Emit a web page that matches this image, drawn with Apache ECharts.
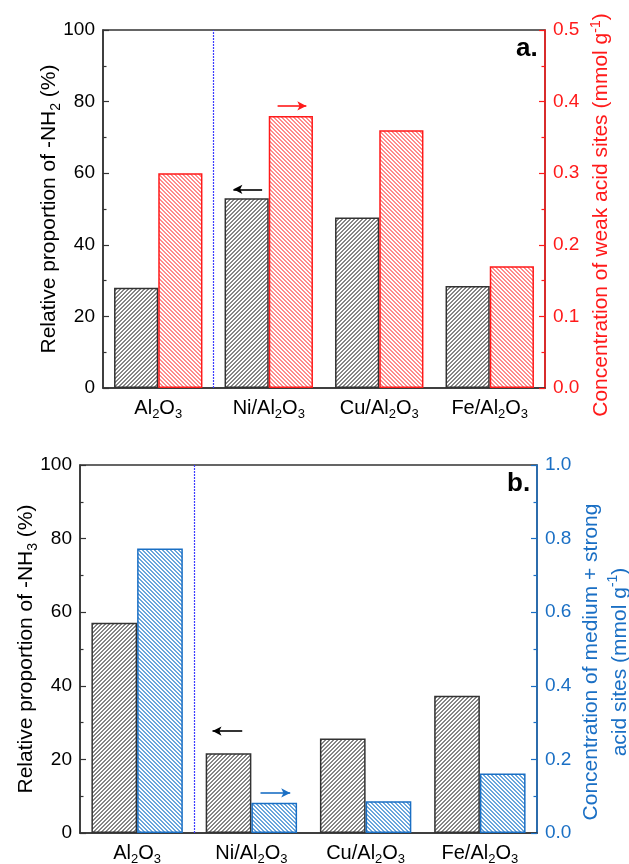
<!DOCTYPE html>
<html><head><meta charset="utf-8">
<script src="https://cdn.jsdelivr.net/npm/echarts@6/dist/echarts.min.js"></script>
<style>html,body{margin:0;padding:0;background:#fff}#c{width:629px;height:864px}</style>
</head><body><div id="c"></div>
<script>
// ---- data ----
const categories = ['Al2O3', 'Ni/Al2O3', 'Cu/Al2O3', 'Fe/Al2O3'];
const nh2Percent = [28.0, 53.0, 47.6, 28.5];          // panel a, left axis (%)
const weakAcid = [0.300, 0.380, 0.360, 0.170];        // panel a, right axis (mmol/g)
const nh3Percent = [57.1, 21.7, 25.7, 37.3];          // panel b, left axis (%)
const medStrongAcid = [0.773, 0.082, 0.086, 0.162];   // panel b, right axis (mmol/g)
const leftTicks = [0, 20, 40, 60, 80, 100];
const rightTicksA = [0.0, 0.1, 0.2, 0.3, 0.4, 0.5];
const rightTicksB = [0.0, 0.2, 0.4, 0.6, 0.8, 1.0];
// annotation arrows: [xFrom, xTo, y] (x in category units 0..4, y in left-axis units)
const arrowsA = [[1.44, 1.18, 55.5], [1.58, 1.84, 78.8]];
const arrowsB = [[1.42, 1.16, 27.7], [1.58, 1.84, 10.9]];
const dividerX = 1;

const FONT = 'Liberation Sans';
const RED = '#ff1a1a';
const BLUE = '#1a6fc4';

function hatch(color, dir) {
  const n = 4;
  const c = document.createElement('canvas');
  c.width = n; c.height = n;
  const ctx = c.getContext('2d');
  ctx.fillStyle = '#ffffff';
  ctx.fillRect(0, 0, n, n);
  ctx.fillStyle = color;
  for (let x = 0; x < n; x++) for (let y = 0; y < n; y++) {
    const v = dir > 0 ? (x + y) % n : (((x - y) % n) + n) % n;
    if (v < 2) ctx.fillRect(x, y, 1, 1);
  }
  return { image: c, repeat: 'repeat' };
}

const subFmt = s => s.replace(/(\d)/g, '{s|$1}');
const catLabel = {
  interval: 0,
  fontSize: 20, color: '#000', fontFamily: FONT, margin: 7, lineHeight: 26,
  formatter: subFmt,
  rich: { s: { fontSize: 13, fontFamily: FONT, color: '#000', verticalAlign: 'bottom', lineHeight: 26 } }
};

function catAxis(grid) {
  return {
    type: 'category', gridIndex: grid, data: categories,
    axisLine: { lineStyle: { color: '#333', width: 1.5 } },
    axisTick: { show: false },
    axisLabel: catLabel
  };
}
function hiddenX(grid) {
  return { type: 'value', gridIndex: grid, min: 0, max: 4, show: false };
}
function leftAxis(grid, nameRich, gap) {
  return {
    type: 'value', gridIndex: grid, min: leftTicks[0], max: leftTicks[leftTicks.length - 1],
    interval: leftTicks[1] - leftTicks[0],
    name: nameRich, nameLocation: 'middle', nameGap: gap, nameMoveOverlap: false,
    nameTextStyle: { fontSize: 21, color: '#000', fontFamily: FONT,
      rich: { s: { fontSize: 14, fontFamily: FONT, color: '#000', verticalAlign: 'bottom', lineHeight: 27 } } },
    axisLine: { show: true, lineStyle: { color: '#333', width: 1.5 } },
    axisTick: { show: true, inside: true, length: 6, lineStyle: { color: '#333', width: 1.2 } },
    minorTick: { show: true, splitNumber: 2, length: 3.5, lineStyle: { color: '#333', width: 1.2 } },
    splitLine: { show: false },
    axisLabel: { fontSize: 19, color: '#000', fontFamily: FONT, margin: 8 }
  };
}
function rightAxis(grid, ticks, color, nameRich, gap, lh, shift) {
  return {
    type: 'value', gridIndex: grid, position: 'right', min: ticks[0], max: ticks[ticks.length - 1],
    interval: +(ticks[1] - ticks[0]).toFixed(2),
    name: nameRich, nameLocation: 'middle', nameGap: gap, nameRotate: 90, nameMoveOverlap: false,
    nameTextStyle: { fontSize: 21, color: color, fontFamily: FONT, lineHeight: lh, align: 'center',
      padding: [0, shift, 0, 0],
      rich: { p: { fontSize: 14, fontFamily: FONT, color: color, verticalAlign: 'top', lineHeight: lh } } },
    axisLine: { show: true, lineStyle: { color: color, width: 1.5 } },
    axisTick: { show: true, inside: true, length: 6, lineStyle: { color: color, width: 1.2 } },
    minorTick: { show: true, splitNumber: 2, length: 3.5, lineStyle: { color: color, width: 1.2 } },
    splitLine: { show: false },
    axisLabel: { fontSize: 19, color: color, fontFamily: FONT, margin: 8, formatter: v => v.toFixed(1) }
  };
}
function barSeries(xi, yi, data, pattern, border) {
  return {
    type: 'bar', xAxisIndex: xi, yAxisIndex: yi, data: data,
    barGap: '0%', barCategoryGap: '20%',
    itemStyle: { color: pattern, borderColor: border, borderWidth: 1.5 },
    silent: true, animation: false
  };
}
function annotSeries(xi, yi, arrows, arrowColors) {
  return {
    type: 'line', xAxisIndex: xi, yAxisIndex: yi, data: [], silent: true, animation: false,
    markLine: {
      silent: true, animation: false, symbol: ['none', 'arrow'], symbolSize: 9,
      label: { show: false },
      data: arrows.map((a, i) => [
        { coord: [a[0], a[2]], lineStyle: { color: arrowColors[i], width: 1.6, type: 'solid' },
          itemStyle: { color: arrowColors[i] } },
        { coord: [a[1], a[2]], symbol: 'arrow', symbolSize: [7, 9], itemStyle: { color: arrowColors[i] } }
      ]).concat([[
        { coord: [dividerX, leftTicks[0]], lineStyle: { color: '#3c3cff', width: 1.2, type: [2, 1] }, symbol: 'none' },
        { coord: [dividerX, leftTicks[leftTicks.length - 1]], symbol: 'none' }
      ]])
    }
  };
}

const grayHatch = hatch('#858585', 1);
const redHatch = hatch('#ff8c8c', -1);
const blueHatch = hatch('#6aa6dc', -1);

const option = {
  animation: false,
  backgroundColor: '#fff',
  title: [
    { text: 'a.', left: 511, top: 31, textStyle: { fontSize: 26, fontWeight: 'bold', color: '#000', fontFamily: FONT } },
    { text: 'b.', left: 502, top: 466, textStyle: { fontSize: 26, fontWeight: 'bold', color: '#000', fontFamily: FONT } }
  ],
  grid: [
    { left: 103, right: 84, top: 30, height: 358, outerBoundsMode: 'none', containLabel: false,
      show: true, borderColor: '#333', borderWidth: 1.5, backgroundColor: 'transparent' },
    { left: 80, right: 92, top: 465, height: 368, outerBoundsMode: 'none', containLabel: false,
      show: true, borderColor: '#333', borderWidth: 1.5, backgroundColor: 'transparent' }
  ],
  xAxis: [catAxis(0), catAxis(1), hiddenX(0), hiddenX(1)],
  yAxis: [
    leftAxis(0, 'Relative proportion of -NH{s|2} (%)', 40),
    rightAxis(0, rightTicksA, RED, 'Concentration of weak acid sites (mmol g{p|-1})', 44, 25, 12),
    leftAxis(1, 'Relative proportion of -NH{s|3} (%)', 40),
    rightAxis(1, rightTicksB, BLUE, 'Concentration of medium + strong\nacid sites (mmol g{p|-1})', 40, 29, 26)
  ],
  series: [
    barSeries(0, 0, nh2Percent, grayHatch, '#333'),
    barSeries(0, 1, weakAcid, redHatch, RED),
    barSeries(1, 2, nh3Percent, grayHatch, '#333'),
    barSeries(1, 3, medStrongAcid, blueHatch, BLUE),
    annotSeries(2, 0, arrowsA, ['#000', RED]),
    annotSeries(3, 2, arrowsB, ['#000', BLUE])
  ]
};
const chart = echarts.init(document.getElementById('c'), null, { renderer: 'canvas' });
chart.setOption(option);
</script></body></html>
